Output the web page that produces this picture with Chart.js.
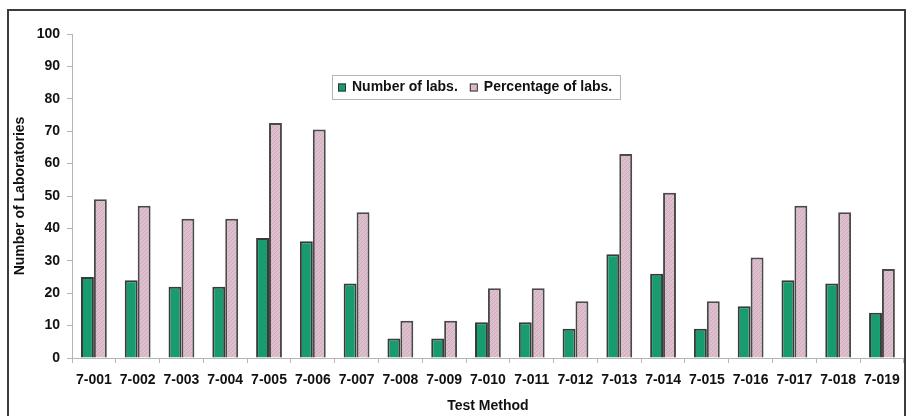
<!DOCTYPE html>
<html>
<head>
<meta charset="utf-8">
<script src="https://cdn.jsdelivr.net/npm/chart.js@4.4.1/dist/chart.umd.min.js"></script>
<style>
  html, body { margin: 0; padding: 0; background: #ffffff; }
  #wrap { position: relative; width: 909px; height: 416px; }
</style>
</head>
<body>
<div id="wrap"><canvas id="c" width="909" height="416"></canvas></div>
<script>
// ---- Data ----
const categories = ['7-001','7-002','7-003','7-004','7-005','7-006','7-007','7-008','7-009','7-010',
                    '7-011','7-012','7-013','7-014','7-015','7-016','7-017','7-018','7-019'];
const numberOfLabs = [25, 24, 22, 22, 37, 36, 23, 6, 6, 11, 11, 9, 32, 26, 9, 16, 24, 23, 14];
const percentageOfLabs = [49, 47, 43, 43, 72.5, 70.5, 45, 11.5, 11.5, 21.5, 21.5, 17.5, 63, 51, 17.5, 31, 47, 45, 27.5];
const seriesNames = ['Number of labs.', 'Percentage of labs.'];
const yTicks = [0, 10, 20, 30, 40, 50, 60, 70, 80, 90, 100];

// ---- Styles ----
const FONT = "'Liberation Sans', Arial, Helvetica, sans-serif";
const GREEN = '#189b6f';
function makeHatch() {
  const p = document.createElement('canvas');
  p.width = 4; p.height = 4;
  const g = p.getContext('2d');
  g.fillStyle = '#ddbfcd';
  g.fillRect(0, 0, 4, 4);
  g.strokeStyle = '#d0abbd';
  g.lineWidth = 1;
  g.beginPath();
  g.moveTo(0, 4); g.lineTo(4, 0);
  g.moveTo(-1, 1); g.lineTo(1, -1);
  g.moveTo(3, 5); g.lineTo(5, 3);
  g.stroke();
  return document.createElement('canvas').getContext('2d').createPattern(p, 'repeat');
}
const PINK = makeHatch();

Chart.defaults.font.family = FONT;
Chart.defaults.font.weight = 'bold';
Chart.defaults.font.size = 14;
Chart.defaults.color = '#111111';

const framePlugin = {
  id: 'frame',
  afterDraw(chart) {
    const ctx = chart.ctx;
    ctx.save();
    ctx.strokeStyle = '#3c3c3c';
    ctx.lineWidth = 2;
    ctx.beginPath();
    ctx.moveTo(8, 416); ctx.lineTo(8, 10); ctx.lineTo(905, 10); ctx.lineTo(905, 416);
    ctx.stroke();
    ctx.restore();
  }
};

const boxLegendPlugin = {
  id: 'boxLegend',
  afterDraw(chart, args, opts) {
    const ctx = chart.ctx;
    ctx.save();
    ctx.fillStyle = '#ffffff';
    ctx.fillRect(opts.x, opts.y, opts.w, opts.h);
    ctx.strokeStyle = '#b4b4b4';
    ctx.lineWidth = 1;
    ctx.strokeRect(opts.x + 0.5, opts.y + 0.5, opts.w, opts.h);
    ctx.font = "bold 14px " + FONT;
    ctx.textBaseline = 'middle';
    ctx.textAlign = 'left';
    const cy = opts.y + opts.h / 2 + 0.5;
    let x = opts.x + 6;
    chart.data.datasets.forEach((ds) => {
      ctx.fillStyle = ds.backgroundColor;
      ctx.fillRect(x, cy - 4, 8, 8);
      ctx.strokeStyle = '#333333';
      ctx.lineWidth = 1;
      ctx.strokeRect(x + 0.5, cy - 3.5, 7, 7);
      ctx.fillStyle = '#111111';
      ctx.fillText(ds.label, x + 14, cy);
      x += 14 + ctx.measureText(ds.label).width + 12;
    });
    ctx.restore();
  }
};

new Chart(document.getElementById('c'), {
  type: 'bar',
  data: {
    labels: categories,
    datasets: [
      { label: seriesNames[0], data: numberOfLabs, backgroundColor: GREEN,
        borderColor: '#3a3a3a', borderWidth: 2 },
      { label: seriesNames[1], data: percentageOfLabs, backgroundColor: PINK,
        borderColor: '#4a4a4a', borderWidth: 2 }
    ]
  },
  plugins: [framePlugin, boxLegendPlugin],
  options: {
    responsive: false,
    animation: false,
    devicePixelRatio: 1,
    layout: { padding: { top: 34, right: 5, left: 0, bottom: 0 } },
    datasets: { bar: { categoryPercentage: 0.59, barPercentage: 1.0 } },
    plugins: {
      legend: { display: false },
      tooltip: { enabled: false },
      boxLegend: { x: 332, y: 75, w: 288, h: 24 }
    },
    scales: {
      x: {
        grid: { display: true, drawOnChartArea: false, drawTicks: true, tickLength: 5, color: '#b5b5b5', offset: true },
        border: { display: true, color: '#b5b5b5', width: 1 },
        ticks: { padding: 9, maxRotation: 0, autoSkip: false, color: '#111111' },
        title: { display: true, text: 'Test Method', padding: { top: 0, bottom: 1 }, color: '#111111' },
        afterFit(scale) { scale.height = 58; }
      },
      y: {
        min: 0, max: 100,
        afterBuildTicks(scale) { scale.ticks = yTicks.map(v => ({ value: v })); },
        grid: { display: true, drawOnChartArea: false, drawTicks: true, tickLength: 5, color: '#b5b5b5' },
        border: { display: true, color: '#b5b5b5', width: 1 },
        ticks: { padding: 7, color: '#111111' },
        title: { display: true, text: 'Number of Laboratories', padding: { top: 12, bottom: 0 }, color: '#111111' },
        afterFit(scale) { scale.width = 72; }
      }
    }
  }
});
</script>
</body>
</html>
